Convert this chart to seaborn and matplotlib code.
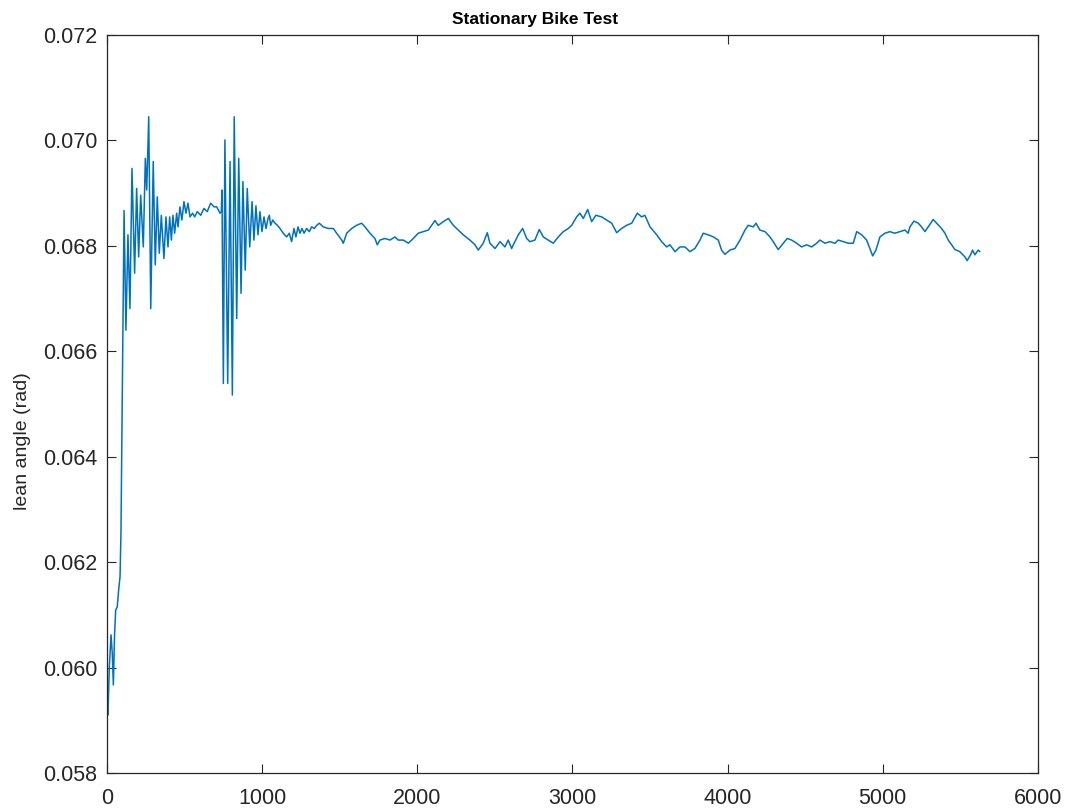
import matplotlib
matplotlib.use("Agg")
import matplotlib.pyplot as plt
import seaborn as sns
import pandas as pd

# Lean-angle trace of the stationary bike run (sample index, radians)
samples = [
    0, 6, 15, 26, 34, 41, 49, 56, 66, 75, 84, 90, 97,
    110, 122, 135, 148, 161, 178, 191, 204, 217, 234, 247, 256, 269, 282,
    298, 311, 324, 337, 350, 367, 380, 393, 404, 415, 425, 436, 449, 458,
    470, 483, 496, 509, 522, 535, 552, 565, 582, 604, 625, 646, 668, 690,
    707, 718, 728, 737, 741,
    750, 760, 778, 793, 808, 820, 836, 849, 864, 876, 891, 904, 920, 935,
    947, 960, 973, 986, 999, 1012, 1025, 1038, 1046, 1055, 1068, 1083, 1098,
    1115, 1136, 1158, 1175, 1190, 1205, 1218, 1231, 1244, 1257, 1270, 1287,
    1304, 1319, 1336, 1352, 1368,
    1394, 1426, 1459, 1480, 1513, 1523, 1545, 1577, 1609, 1641, 1663, 1695,
    1727, 1742, 1759, 1792, 1824, 1856, 1877, 1910, 1942, 1974, 2006, 2039,
    2071, 2114, 2135, 2168, 2200, 2232, 2264, 2296, 2339, 2372, 2393, 2425,
    2451, 2468, 2501, 2533, 2565, 2586, 2608,
    2619, 2651, 2679, 2705, 2726, 2758, 2786, 2812, 2844, 2876, 2909, 2941,
    2973, 2995, 3027, 3048, 3070, 3098, 3124, 3151, 3188, 3220, 3253, 3285,
    3317, 3349, 3382, 3418, 3446, 3467, 3500, 3543, 3575, 3607, 3628, 3661,
    3693, 3725, 3757, 3789, 3822, 3843, 3875, 3908, 3940, 3961, 3983, 4015,
    4047, 4080, 4112, 4133, 4165, 4183,
    4208, 4241, 4273, 4294, 4326, 4359, 4384, 4413, 4445, 4477, 4509, 4542,
    4574, 4595, 4628, 4660, 4692, 4713, 4745, 4778, 4810, 4832, 4864, 4896,
    4917, 4935, 4956, 4982, 5014, 5046, 5078, 5111, 5143, 5164, 5175, 5201,
    5229, 5250, 5272, 5293, 5325, 5347, 5379, 5401, 5422, 5444, 5465, 5497,
    5530, 5544, 5566, 5579, 5594, 5615, 5626,
]

lean_angle = [
    0.05929, 0.05910, 0.06001, 0.06062, 0.06027, 0.05967, 0.06065, 0.06109,
    0.06115, 0.06147, 0.06172, 0.06255, 0.06476,
    0.06867, 0.06640, 0.06821, 0.06681, 0.06947, 0.06748, 0.06909, 0.06779,
    0.06896, 0.06798, 0.06966, 0.06906, 0.07045, 0.06681,
    0.06960, 0.06764, 0.06893, 0.06786, 0.06858, 0.06776, 0.06855, 0.06798,
    0.06855, 0.06811, 0.06858, 0.06824, 0.06862, 0.06836,
    0.06874, 0.06849, 0.06884, 0.06862, 0.06881, 0.06855, 0.06862, 0.06855,
    0.06865, 0.06858, 0.06871, 0.06865, 0.06881, 0.06874,
    0.06874, 0.06868, 0.06862, 0.06865, 0.06906,
    0.06539, 0.07001, 0.06539, 0.06960, 0.06517, 0.07045, 0.06662, 0.06966,
    0.06710, 0.06922, 0.06754, 0.06909, 0.06798, 0.06884,
    0.06811, 0.06876, 0.06821, 0.06865, 0.06827, 0.06855, 0.06833, 0.06852,
    0.06858, 0.06839, 0.06849, 0.06843, 0.06839,
    0.06833, 0.06824, 0.06817, 0.06824, 0.06808, 0.06833, 0.06817, 0.06836,
    0.06824, 0.06833, 0.06824, 0.06833,
    0.06827, 0.06836, 0.06833, 0.06839, 0.06843,
    0.06836, 0.06833, 0.06833, 0.06824, 0.06811, 0.06805, 0.06824, 0.06833,
    0.06839, 0.06843, 0.06836, 0.06824,
    0.06814, 0.06802, 0.06811, 0.06814, 0.06811, 0.06817, 0.06811, 0.06811,
    0.06805, 0.06814, 0.06824, 0.06827,
    0.06830, 0.06848, 0.06839, 0.06846, 0.06852, 0.06839, 0.06830, 0.06821,
    0.06811, 0.06802, 0.06792, 0.06805,
    0.06825, 0.06805, 0.06795, 0.06808, 0.06798, 0.06811, 0.06795,
    0.06802, 0.06821, 0.06833, 0.06814, 0.06808, 0.06811, 0.06831, 0.06817,
    0.06811, 0.06805, 0.06817, 0.06827,
    0.06833, 0.06839, 0.06855, 0.06862, 0.06852, 0.06869, 0.06846, 0.06858,
    0.06855, 0.06849, 0.06843, 0.06825,
    0.06833, 0.06839, 0.06843, 0.06862, 0.06855, 0.06858, 0.06836, 0.06821,
    0.06808, 0.06798, 0.06802, 0.06789,
    0.06798, 0.06798, 0.06789, 0.06795, 0.06811, 0.06824, 0.06821, 0.06817,
    0.06811, 0.06792, 0.06784, 0.06792,
    0.06795, 0.06811, 0.06830, 0.06839, 0.06836, 0.06843,
    0.06830, 0.06827, 0.06817, 0.06808, 0.06793, 0.06805, 0.06814, 0.06811,
    0.06805, 0.06798, 0.06802, 0.06798,
    0.06805, 0.06811, 0.06805, 0.06808, 0.06805, 0.06811, 0.06808, 0.06805,
    0.06805, 0.06827, 0.06821, 0.06811,
    0.06795, 0.06781, 0.06792, 0.06817, 0.06824, 0.06827, 0.06824, 0.06827,
    0.06830, 0.06824, 0.06836, 0.06847,
    0.06843, 0.06836, 0.06827, 0.06836, 0.06850, 0.06843, 0.06833, 0.06824,
    0.06811, 0.06802, 0.06793, 0.06789,
    0.06779, 0.06772, 0.06783, 0.06792, 0.06783, 0.06792, 0.06789,
]

x_ticks = [0, 1000, 2000, 3000, 4000, 5000, 6000]
y_ticks = [0.058, 0.060, 0.062, 0.064, 0.066, 0.068, 0.070, 0.072]

title_text = "Stationary Bike Test"
y_label_text = "lean angle (rad)"

sns.set_theme(style="ticks")
plt.rcParams["font.family"] = ["Liberation Sans", "DejaVu Sans"]

df = pd.DataFrame({"sample": samples, "lean": lean_angle})

fig = plt.figure(figsize=(10.70, 8.11), dpi=100)
ax = fig.add_axes([0.1, 0.0469, 0.870, 0.9099])

sns.lineplot(data=df, x="sample", y="lean", ax=ax, estimator=None,
             sort=False, color="#0072BD", linewidth=1.1)

ax.set_xlim(0, 6000)
ax.set_ylim(0.058, 0.072)
ax.set_xticks(x_ticks)
ax.set_yticks(y_ticks)
ax.set_xticklabels([str(v) for v in x_ticks])
ax.set_yticklabels([f"{v:.3f}" for v in y_ticks])

edge = "#262626"
for side in ["top", "right", "bottom", "left"]:
    ax.spines[side].set_visible(True)
    ax.spines[side].set_color(edge)
    ax.spines[side].set_linewidth(0.9)

ax.tick_params(axis="both", which="major", direction="in", length=6.5,
               width=0.8, color=edge, labelcolor=edge, labelsize=15.5,
               top=True, right=True)
ax.tick_params(axis="x", pad=11)
ax.tick_params(axis="y", pad=7)

ax.set_xlabel("")
ax.set_ylabel(y_label_text, fontsize=14, color=edge, labelpad=10)
ax.yaxis.set_label_coords(-0.082, 0.45)
ax.set_title(title_text, fontsize=12.5, fontweight="bold", color="black",
             pad=8, x=0.46)

fig.savefig("out.png", dpi=100, facecolor="white")
